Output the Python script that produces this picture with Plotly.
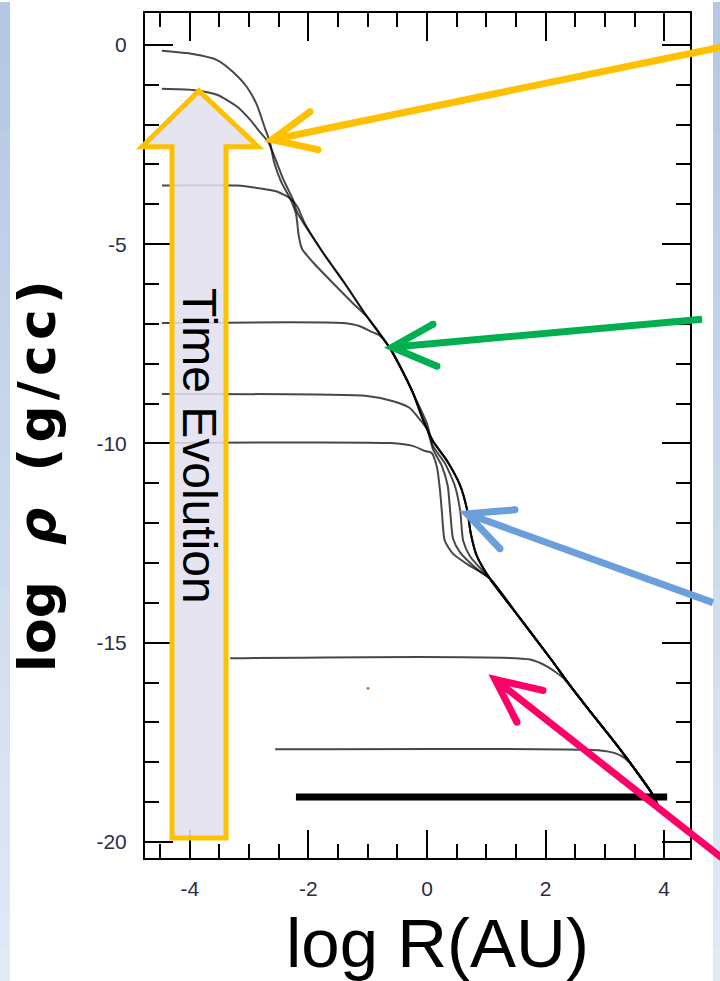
import plotly.graph_objects as go

# ---------------- data: log R (AU) vs log rho (g/cc) ----------------
# shared inner isothermal envelope
ENV_IN_X = [-1.75, -1.38, -1.01, -0.79, -0.62, -0.46, -0.24]
ENV_IN_Y = [-5.22, -6.00, -6.82, -7.26, -7.62, -8.05, -8.72]
# outermost shock/ first-core edge (latest curves)
FOURTH_X = [-0.07, 0.10, 0.34, 0.56, 0.68, 0.74, 0.84]
FOURTH_Y = [-9.39, -9.94, -10.44, -11.06, -11.69, -12.27, -12.82]
# shared outer envelope
ENV_OUT_X = [1.06, 1.57, 2.12, 2.41, 2.75, 3.14, 3.47, 3.81, 3.91]
ENV_OUT_Y = [-13.39, -14.39, -15.47, -16.07, -16.72, -17.45, -18.10, -18.82, -19.15]

A_X = [-4.47, -3.95, -3.54, -3.27, -3.04, -2.87, -2.73, -2.65, -2.58, -2.46, -2.31, -2.21, -2.16, -2.11, -1.92, -1.55, -1.25]
A_Y = [-0.15, -0.23, -0.38, -0.68, -1.05, -1.50, -2.10, -2.43, -2.93, -3.43, -3.85, -4.23, -4.81, -5.11, -5.46, -6.03, -6.48]

B_X = [-4.47, -3.95, -3.54, -3.20, -2.98, -2.82, -2.68, -2.56, -2.43, -2.26, -2.19]
B_Y = [-1.10, -1.13, -1.25, -1.55, -1.88, -2.18, -2.43, -2.85, -3.35, -3.88, -4.20]

C_X = [-4.47, -3.20, -2.82, -2.53, -2.31, -2.19, -2.06]
C_Y = [-3.53, -3.53, -3.60, -3.68, -3.85, -4.05, -4.48]

D_X = [-4.47, -1.42, -1.13, -0.96, -0.79]
D_Y = [-6.98, -6.98, -7.06, -7.18, -7.30]
D_LOW_X = [0.00, 0.10, 0.30, 0.47, 0.56, 0.61, 0.73]
D_LOW_Y = [-9.50, -10.06, -10.49, -11.06, -11.69, -12.44, -12.84]

E_X = [-4.47, -1.01, -0.57, -0.29, -0.17, 0.00, 0.10, 0.25, 0.35, 0.39, 0.44, 0.56, 0.86]
E_Y = [-8.76, -8.81, -8.94, -9.11, -9.31, -9.64, -10.14, -10.56, -11.06, -11.69, -12.39, -12.74, -13.17]

F_X = [-4.47, -0.62, -0.24, -0.03, 0.08, 0.17, 0.22, 0.25, 0.30, 0.44, 0.67]
F_Y = [-9.99, -9.99, -10.06, -10.19, -10.24, -10.61, -11.19, -11.69, -12.44, -12.77, -13.02]

G_X = [-3.32, 1.74, 2.02, 2.29]
G_Y = [-15.39, -15.42, -15.59, -15.87]

H_X = [-2.56, 2.92, 3.17, 3.34]
H_Y = [-17.67, -17.70, -17.77, -17.90]

INIT_X = [-2.21, 4.05]
INIT_Y = [-18.87, -18.87]

X_TICKS = [-4, -2, 0, 2, 4]
Y_TICKS = [0, -5, -10, -15, -20]

# ---------------- assemble curves ----------------
curves = [
    (A_X + ENV_IN_X[2:] + FOURTH_X + ENV_OUT_X, A_Y + ENV_IN_Y[2:] + FOURTH_Y + ENV_OUT_Y),
    (B_X + ENV_IN_X + FOURTH_X + ENV_OUT_X, B_Y + ENV_IN_Y + FOURTH_Y + ENV_OUT_Y),
    (C_X + ENV_IN_X + FOURTH_X + ENV_OUT_X, C_Y + ENV_IN_Y + FOURTH_Y + ENV_OUT_Y),
    (D_X + ENV_IN_X[4:] + D_LOW_X + ENV_OUT_X, D_Y + ENV_IN_Y[4:] + D_LOW_Y + ENV_OUT_Y),
    (E_X + ENV_OUT_X, E_Y + ENV_OUT_Y),
    (F_X + ENV_OUT_X, F_Y + ENV_OUT_Y),
    (G_X + ENV_OUT_X[3:], G_Y + ENV_OUT_Y[3:]),
    (H_X + ENV_OUT_X[6:], H_Y + ENV_OUT_Y[6:]),
]

fig = go.Figure()
for cx, cy in curves:
    fig.add_trace(go.Scatter(x=cx, y=cy, mode="lines",
                             line=dict(color="rgba(0,0,0,0.72)", width=2, shape="spline", smoothing=0.6),
                             hoverinfo="skip", showlegend=False))
fig.add_trace(go.Scatter(x=INIT_X, y=INIT_Y, mode="lines",
                         line=dict(color="black", width=7), hoverinfo="skip", showlegend=False))

# ---------------- layout geometry (pixels) ----------------
W, H = 720, 981
L, R, T, B = 145, 690, 11, 858


def px(x):
    return (x - L) / (R - L)


def py(y):
    return (B - y) / (B - T)


shapes = []
# light blue side strips (vertical gradient)
N = 30
for i in range(N):
    f = i / (N - 1)
    r = int(180 + (226 - 180) * f)
    g = int(200 + (234 - 200) * f)
    b = int(228 + (246 - 228) * f)
    col = f"rgb({r},{g},{b})"
    y0 = H * i / N
    y1 = H * (i + 1) / N + 1
    shapes.append(dict(type="rect", xref="paper", yref="paper", x0=px(0), x1=px(10),
                       y0=py(y1), y1=py(y0), fillcolor=col, line=dict(width=0), layer="below"))
    shapes.append(dict(type="rect", xref="paper", yref="paper", x0=px(713), x1=px(720),
                       y0=py(y1), y1=py(y0), fillcolor=col, line=dict(width=0), layer="below"))


def path(points, close=False):
    s = "M " + " L ".join(f"{px(a):.5f},{py(b):.5f}" for a, b in points)
    return s + (" Z" if close else "")


# block arrow "Time Evolution"
block = [(199, 89), (258, 145), (226, 145), (226, 838), (172, 838), (172, 145), (142, 145)]
shapes.append(dict(type="path", xref="paper", yref="paper", path=path(block, True),
                   fillcolor="rgba(226,224,238,0.88)", line=dict(color="#FFC000", width=5), layer="above"))

# pointer arrows: (tail, tip, barb1, barb2, colour)
arrows = [
    ((722, 45), (272, 138), (310, 110), (318, 148), "#FFC000"),
    ((702, 318), (392, 346), (433, 323), (437, 365), "#00B050"),
    ((713, 602), (467, 513), (515, 509), (500, 548), "#6A9FDB"),
    ((722, 858), (495, 679), (543, 690), (517, 722), "#FF0066"),
]
for tail, tip, b1, b2, col in arrows:
    shapes.append(dict(type="path", xref="paper", yref="paper",
                       path=path([tail, tip]) + " " + path([b1, tip, b2]),
                       line=dict(color=col, width=7), layer="above"))
    for bx, by in (b1, b2):
        shapes.append(dict(type="circle", xref="paper", yref="paper",
                           x0=px(bx - 3.5), x1=px(bx + 3.5), y0=py(by + 3.5), y1=py(by - 3.5),
                           fillcolor=col, line=dict(width=0), layer="above"))

# tiny speck
shapes.append(dict(type="circle", xref="paper", yref="paper", x0=px(366.5), x1=px(369.5),
                   y0=py(689.5), y1=py(686.5), fillcolor="#d07a40", line=dict(width=0)))

hs = "\u200a"
ytitle = "<b>log\u00a0 <i>ρ</i>\u00a0 " + hs.join("(g/cc)") + "</b>"

annotations = [
    dict(text="Time Evolution", xref="paper", yref="paper", x=px(199), y=py(445),
         textangle=90, showarrow=False, font=dict(family="Liberation Sans", size=48, color="black"),
         xanchor="center", yanchor="middle"),
    dict(text="log R(AU)", xref="paper", yref="paper", x=px(437), y=py(944),
         showarrow=False, font=dict(family="Liberation Sans", size=69, color="black"),
         xanchor="center", yanchor="middle"),
    dict(text=ytitle, xref="paper", yref="paper", x=px(37), y=py(475),
         textangle=-90, showarrow=False, font=dict(family="DejaVu Sans", size=52, color="black"),
         xanchor="center", yanchor="middle"),
]

tickfont = dict(family="Liberation Sans", size=21, color="#2b2b45")
axis_common = dict(showline=True, linewidth=2, linecolor="black", mirror="ticks",
                   ticks="inside", tickwidth=2, tickcolor="black", ticklen=28,
                   showgrid=False, zeroline=False, tickfont=tickfont)

fig.update_layout(
    width=W, height=H,
    margin=dict(l=L, r=W - R, t=T, b=H - B),
    paper_bgcolor="white", plot_bgcolor="white",
    showlegend=False,
    shapes=shapes, annotations=annotations,
    xaxis=dict(range=[-4.755, 4.435], tickvals=X_TICKS, ticktext=[str(v) for v in X_TICKS],
               minor=dict(dtick=0.5, tick0=0, ticks="inside", ticklen=14, tickwidth=2, tickcolor="black",
                          showgrid=False),
               ticklabelstandoff=11, **axis_common),
    yaxis=dict(range=[-20.40, 0.80], tickvals=Y_TICKS, ticktext=[str(v) for v in Y_TICKS],
               minor=dict(dtick=1, tick0=0, ticks="inside", ticklen=14, tickwidth=2, tickcolor="black",
                          showgrid=False),
               ticklabelstandoff=12, **axis_common),
)

fig.write_html("out.html")
